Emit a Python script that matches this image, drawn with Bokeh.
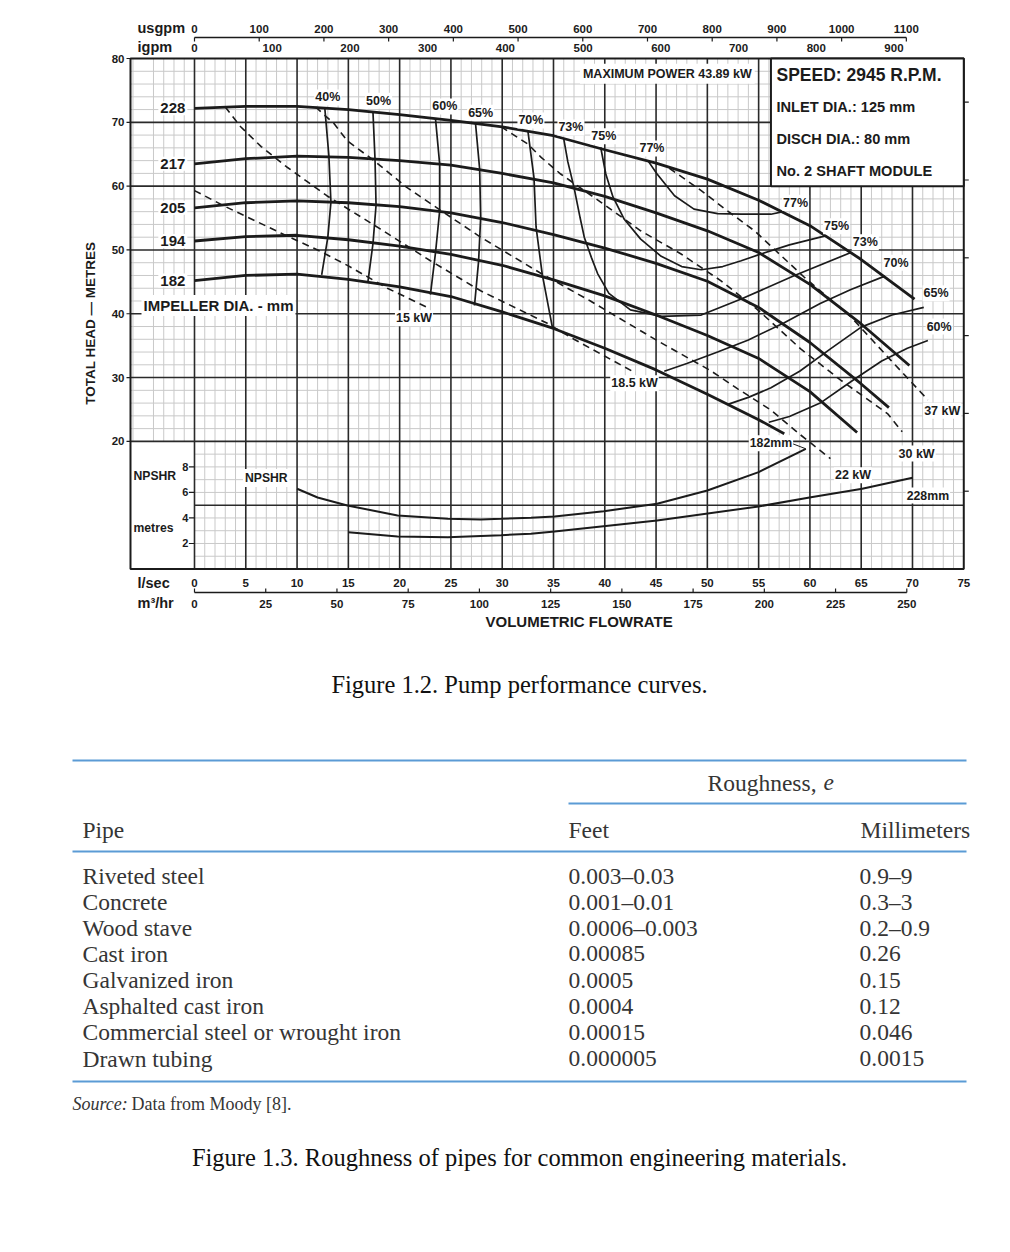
import math
from bokeh.plotting import figure
from bokeh.models import Range1d, ColumnDataSource
from bokeh.layouts import column
from bokeh.embed import file_html
from bokeh.resources import INLINE
from bokeh.core.properties import value

# ---------------- data: pump chart (flow in l/s, head in m) ----------------
q_228 = [0, 5, 10, 15, 20, 25, 30, 35, 40, 45, 50, 55, 60, 65, 70.2]
h_228 = [72.2, 72.5, 72.5, 72.0, 71.2, 70.3, 69.3, 67.9, 65.7, 63.6, 61.1, 57.8, 53.8, 48.5, 42.3]
q_217 = [0, 5, 10, 15, 20, 25, 30, 35, 40, 45, 50, 55, 60, 65, 69.7]
h_217 = [63.5, 64.3, 64.7, 64.5, 64.0, 63.3, 62.0, 60.5, 58.4, 55.8, 53.0, 49.6, 44.6, 38.4, 31.9]
q_205 = [0, 5, 10, 15, 20, 25, 30, 35, 40, 45, 50, 55, 60, 65, 67.7]
h_205 = [56.6, 57.4, 57.7, 57.4, 56.8, 55.8, 54.3, 52.4, 50.3, 47.9, 45.1, 41.0, 35.5, 29.0, 25.3]
q_194 = [0, 5, 10, 15, 20, 25, 30, 35, 40, 45, 50, 55, 60, 64.6]
h_194 = [51.4, 52.1, 52.3, 51.6, 50.6, 49.3, 47.6, 45.3, 42.8, 39.8, 36.6, 33.0, 27.8, 21.4]
q_182 = [0, 5, 10, 15, 20, 25, 30, 35, 40, 45, 50, 55, 57.5]
h_182 = [45.2, 46.0, 46.2, 45.4, 44.2, 42.7, 40.3, 37.7, 34.6, 31.2, 27.4, 23.4, 21.2]
impeller_labels = ["228", "217", "205", "194", "182"]

# efficiency contours
q_e40 = [12.7, 13.1, 13.3, 13.0, 12.4];  h_e40 = [72.3, 64.8, 57.5, 52.0, 46.1]
q_e50 = [17.4, 17.6, 17.7, 17.4, 16.9];  h_e50 = [71.6, 64.2, 57.0, 51.0, 44.9]
q_e60 = [23.5, 23.9, 23.9, 23.5, 23.0];  h_e60 = [70.5, 63.5, 56.1, 49.6, 43.0]
q_e65 = [27.4, 27.8, 27.9, 27.7, 27.3];  h_e65 = [69.8, 62.7, 55.1, 48.3, 41.3]
q_e70 = [32.5, 33.1, 33.3, 33.9, 34.9];  h_e70 = [68.7, 61.3, 53.6, 46.2, 37.8]
q_e73 = [36.0, 36.4, 37.0, 37.6, 38.0, 38.7, 39.3, 40.4, 42.5, 45.5, 49.4, 53.3, 58.5, 64.0]
h_e73 = [67.4, 63.8, 59.8, 55.0, 52.0, 48.8, 46.3, 43.2, 40.6, 39.6, 39.8, 42.3, 46.0, 49.6]
q_e75 = [39.6, 40.1, 40.8, 41.9, 43.5, 45.5, 47.5, 49.4, 51.5, 53.3, 55.1, 58.0, 61.5]
h_e75 = [66.1, 61.9, 58.3, 54.8, 51.7, 49.0, 47.4, 46.9, 47.4, 48.3, 49.3, 50.8, 52.2]
q_e77 = [44.2, 45.1, 46.8, 48.7, 51.0, 53.3, 56.2, 57.4]
h_e77 = [64.0, 61.9, 58.5, 56.4, 55.7, 55.6, 55.6, 56.0]
q_e70r = [45.8, 48.0, 51.0, 54.0, 57.5, 61.0, 64.0, 67.3]
h_e70r = [31.0, 32.2, 34.0, 35.9, 38.6, 41.6, 43.8, 45.9]
q_e65r = [52.0, 54.0, 56.2, 59.0, 62.0, 65.0, 68.0, 71.1]
h_e65r = [25.8, 26.9, 28.4, 31.0, 34.5, 37.9, 39.8, 41.0]
q_e60r = [56.0, 58.0, 61.0, 64.3, 67.0, 69.5, 71.5]
h_e60r = [23.0, 23.9, 26.0, 29.7, 32.6, 34.6, 35.8]
eff_text = ["40%", "50%", "60%", "65%", "70%", "73%", "75%", "77%", "77%", "75%", "73%", "70%", "65%", "60%"]
eff_text_q = [13.0, 17.95, 24.4, 27.9, 32.8, 36.7, 39.9, 44.6, 58.6, 62.6, 65.4, 68.4, 72.3, 72.6]
eff_text_h = [73.9, 73.4, 72.5, 71.5, 70.3, 69.2, 67.8, 65.9, 57.4, 53.7, 51.2, 48.0, 43.2, 38.0]

# power lines (dashed)
q_p15 = [0, 3, 6, 9, 12, 15, 18.8, 22.7]
h_p15 = [59.3, 56.8, 54.5, 52.2, 50.0, 47.5, 44.0, 41.0]
q_p185 = [3.0, 4.5, 6.5, 9.0, 12.9, 18.1, 23.0, 27.9, 34.4, 37.0, 42.9]
h_p185 = [72.4, 69.3, 66.2, 63.0, 58.5, 53.3, 48.3, 43.6, 38.5, 36.0, 30.8]
q_p22 = [11.8, 13.6, 14.9, 17.5, 20.7, 24.0, 27.9, 33.8, 38.6, 45.1, 50.3, 53.0, 56.2, 59.1, 62.0]
h_p22 = [72.4, 69.8, 67.1, 64.0, 59.8, 56.2, 52.0, 46.3, 42.0, 35.8, 31.1, 28.2, 24.9, 21.0, 17.3]
q_p30 = [29.9, 32.5, 33.8, 35.7, 39.6, 43.5, 47.4, 51.3, 55.0, 59.1, 63.0, 67.6, 69.0]
h_p30 = [69.3, 66.6, 64.5, 61.9, 57.5, 53.0, 49.4, 45.2, 40.5, 34.5, 29.6, 24.3, 21.5]
q_p37 = [46.3, 49.4, 51.9, 54.6, 59.4, 64.0, 67.9, 71.5]
h_p37 = [62.8, 59.3, 56.2, 53.0, 45.8, 39.5, 32.7, 26.5]
power_text = ["15 kW", "18.5 kW", "22 kW", "30 kW", "37 kW"]
power_text_q = [21.4, 42.9, 64.2, 70.4, 72.9]
power_text_h = [39.3, 29.1, 14.7, 18.1, 24.8]

# NPSHR curves (flow l/s, NPSHR m)
q_n182 = [10.0, 12.0, 14.9, 19.8, 24.7, 27.9, 29.9, 32.8, 35.1, 39.9, 45.1, 50.0, 55.0, 59.6]
n_n182 = [6.29, 5.6, 4.98, 4.19, 3.93, 3.88, 3.93, 4.01, 4.11, 4.53, 5.11, 6.15, 7.59, 9.42]
q_n228 = [15.0, 19.8, 24.7, 29.9, 32.8, 35.1, 45.1, 55.0, 60.1, 65.1, 70.0]
n_n228 = [2.88, 2.55, 2.49, 2.65, 2.76, 2.94, 3.80, 4.90, 5.63, 6.29, 7.15]
npshr_ticks = [2, 4, 6, 8]

# axis scales
lsec_ticks = list(range(0, 80, 5))
m3h_ticks = list(range(0, 275, 25))
usgpm_ticks = list(range(0, 1200, 100))
igpm_ticks = list(range(0, 1000, 100))
head_ticks = [20, 30, 40, 50, 60, 70, 80]
feet_ticks = [40, 80, 120, 160, 200, 240]

info_lines = ["SPEED: 2945 R.P.M.", "INLET DIA.: 125 mm", "DISCH DIA.: 80 mm", "No. 2 SHAFT MODULE"]

# ---------------- data: roughness table ----------------
pipes = ["Riveted steel", "Concrete", "Wood stave", "Cast iron", "Galvanized iron",
         "Asphalted cast iron", "Commercial steel or wrought iron", "Drawn tubing"]
rough_feet = ["0.003–0.03", "0.001–0.01", "0.0006–0.003", "0.00085", "0.0005",
              "0.0004", "0.00015", "0.000005"]
rough_mm = ["0.9–9", "0.3–3", "0.2–0.9", "0.26", "0.15", "0.12", "0.046", "0.0015"]

# ---------------- figure 1: pump chart ----------------
USG, IMP, M3H, FT = 15.850, 13.198, 3.6, 3.2808     # unit conversions from l/s and m
W1, H1 = 1000, 640
PX0, SX = 194.0, 10.257       # layout: pixel of 0 l/s, pixels per l/s
PY0, SY = 568.5, 6.381        # layout: pixel of chart zero, pixels per metre
X0, X1, Y0, Y1 = -6.24, 75.0, 0.0, 80.0              # chart frame in data units

def gx(px):   # layout helper: page pixel -> flow units
    return (px - PX0) / SX

def gy(py):   # layout helper: page pixel -> head units
    return (PY0 - py) / SY

FONT = "Liberation Sans"
INK = "#1b1b1b"

p = figure(width=W1, height=H1, x_range=Range1d(gx(0), gx(W1)), y_range=Range1d(gy(H1), gy(0)),
           output_backend="svg", toolbar_location=None, title=None,
           x_axis_type=None, y_axis_type=None, min_border=0)
p.outline_line_color = None
p.background_fill_color = "white"
p.border_fill_color = "white"
p.xgrid.grid_line_color = None
p.ygrid.grid_line_color = None

def txt(xs, ys, texts, size="12.5px", align="center", bg=False, style="bold", pad=1, angle=0.0,
        color=INK):
    src = ColumnDataSource(dict(x=list(xs), y=list(ys), t=list(texts)))
    kw = dict(x="x", y="y", text="t", source=src, text_font=value(FONT), text_font_size=size,
              text_font_style=style, text_align=align, text_baseline="middle", text_color=color,
              angle=angle)
    if bg:
        kw.update(background_fill_color="white", padding=pad)
    p.text(**kw)

# grid
BOX_X = 56.2
mx0, my0, mx1, my1 = [], [], [], []
for g in range(-6, 76):
    if g % 5 == 0:
        continue
    mx0.append(g); mx1.append(g)
    my0.append(20 if g < 0 else 0)
    my1.append(60 if g > BOX_X else 80)
for g in range(2, 80, 2):
    if g % 10 == 0:
        continue
    my0.append(g); my1.append(g)
    mx0.append(X0 if g > 20 else 0)
    mx1.append(BOX_X if g > 60 else X1)
p.segment(x0=mx0, y0=my0, x1=mx1, y1=my1, line_color="#c9c9c9", line_width=1)

Mx0, My0, Mx1, My1 = [], [], [], []
for g in range(0, 75, 5):
    Mx0.append(g); Mx1.append(g); My0.append(0); My1.append(60 if g > BOX_X else 80)
for g in [10, 20, 30, 40, 50, 60, 70]:
    My0.append(g); My1.append(g)
    Mx0.append(0 if g < 20 else X0)
    Mx1.append(BOX_X if g > 60 else X1)
p.segment(x0=Mx0, y0=My0, x1=Mx1, y1=My1, line_color="#2a2a2a", line_width=1.6)

# frame and info box
p.quad(left=X0, right=X1, bottom=Y0, top=Y1, fill_color=None, line_color=INK, line_width=2)
p.quad(left=BOX_X, right=X1, bottom=60, top=80, fill_color="white", line_color=INK, line_width=2)

# ---- axes (drawn through the data scales) ----
TICK_X = 4 / SX
TICK_Y = 4 / SY
# left: total head
p.segment(x0=[X0 - TICK_X] * len(head_ticks), x1=[X0] * len(head_ticks), y0=head_ticks, y1=head_ticks,
          line_color=INK, line_width=1.2)
txt([X0 - TICK_X - 2 / SX] * len(head_ticks), head_ticks, [str(v) for v in head_ticks], size="11.5px",
    align="right")
txt([gx(90)], [38.5], ["TOTAL HEAD — METRES"], size="13.5px", angle=math.pi / 2)
# right: unlabeled feet ticks
ft_y = [v / FT for v in feet_ticks]
p.segment(x0=[X1] * len(ft_y), x1=[X1 + 5 / SX] * len(ft_y), y0=ft_y, y1=ft_y, line_color=INK, line_width=1.2)
# top: usgpm (line + ticks) and igpm
y_usg_line = gy(37)
usg_x = [v / USG for v in usgpm_ticks]
p.segment(x0=[0], x1=[1100 / USG], y0=[y_usg_line], y1=[y_usg_line], line_color=INK, line_width=1.3)
p.segment(x0=usg_x, x1=usg_x, y0=[y_usg_line] * len(usg_x), y1=[y_usg_line - TICK_Y] * len(usg_x),
          line_color=INK, line_width=1.2)
txt(usg_x, [gy(28)] * len(usg_x), [str(v) for v in usgpm_ticks], size="11.5px")
txt([v / IMP for v in igpm_ticks], [gy(47.5)] * len(igpm_ticks), [str(v) for v in igpm_ticks], size="11.5px")
txt([gx(137)] * 2, [gy(27), gy(46)], ["usgpm", "igpm"], size="14.5px", align="left")
# bottom: l/sec and m3/hr
txt(lsec_ticks, [gy(582)] * len(lsec_ticks), [str(v) for v in lsec_ticks], size="11.5px")
y_m3_line = gy(592)
m3_x = [v / M3H for v in m3h_ticks]
p.segment(x0=[0], x1=[250 / M3H], y0=[y_m3_line], y1=[y_m3_line], line_color=INK, line_width=1.3)
p.segment(x0=m3_x, x1=m3_x, y0=[y_m3_line] * len(m3_x), y1=[y_m3_line + TICK_Y] * len(m3_x),
          line_color=INK, line_width=1.2)
txt(m3_x, [gy(603)] * len(m3_x), [str(v) for v in m3h_ticks], size="11.5px")
txt([gx(137)] * 2, [gy(582), gy(602)], ["l/sec", "m³/hr"], size="14.5px", align="left")
txt([37.5], [gy(621)], ["VOLUMETRIC FLOWRATE"], size="15px")

# ---- curves ----
for q, h in [(q_228, h_228), (q_217, h_217), (q_205, h_205), (q_194, h_194), (q_182, h_182)]:
    p.line(q, h, line_color=INK, line_width=2.8)

for q, h in [(q_e40, h_e40), (q_e50, h_e50), (q_e60, h_e60), (q_e65, h_e65), (q_e70, h_e70),
             (q_e73, h_e73), (q_e75, h_e75), (q_e77, h_e77), (q_e70r, h_e70r), (q_e65r, h_e65r),
             (q_e60r, h_e60r)]:
    p.line(q, h, line_color=INK, line_width=1.7)

for q, h in [(q_p15, h_p15), (q_p185, h_p185), (q_p22, h_p22), (q_p30, h_p30), (q_p37, h_p37)]:
    p.line(q, h, line_color=INK, line_width=1.6, line_dash="7 5")

# NPSHR band: 1 m NPSHR = 2 chart units
p.line(q_n182, [2 * v for v in n_n182], line_color=INK, line_width=2)
p.line(q_n228, [2 * v for v in n_n228], line_color=INK, line_width=2)
p.segment(x0=[58.2], y0=[19.7], x1=[q_n182[-1]], y1=[2 * n_n182[-1]], line_color=INK, line_width=1)
p.segment(x0=[-TICK_X * 1.4] * 4, x1=[0] * 4, y0=[2 * v for v in npshr_ticks], y1=[2 * v for v in npshr_ticks],
          line_color=INK, line_width=1.2)

# ---- labels ----
txt([-0.7] * 5, [h_228[0], h_217[0], h_205[0], h_194[0], h_182[0]], impeller_labels,
    size="15px", align="right", bg=True, pad=2)
txt([gx(141)], [41.3], ["IMPELLER DIA. - mm"], size="15px", align="left", bg=True, pad=2)
txt(eff_text_q, eff_text_h, eff_text, size="12.5px", bg=True, pad=1)
txt(power_text_q, power_text_h, power_text, size="12.5px", bg=True, pad=1)
txt([56.2, 71.5], [19.7, 11.5], ["182mm", "228mm"], size="12.3px", bg=True, pad=1)
txt([46.1], [77.6], ["MAXIMUM POWER 43.89 kW"], size="12.5px", bg=True, pad=3)
txt([-0.6] * 4, [2 * v for v in npshr_ticks], [str(v) for v in npshr_ticks], size="11px", align="right")
txt([gx(133)] * 2, [gy(475), gy(527)], ["NPSHR", "metres"], size="12.2px", align="left")
txt([7.0], [gy(477.5)], ["NPSHR"], size="12.2px", bg=True, pad=2)
txt([gx(776)], [gy(74)], [info_lines[0]], size="17.5px", align="left")
txt([gx(776)] * 3, [gy(106), gy(138), gy(170)], info_lines[1:], size="14.6px", align="left")

# ---------------- figure 2: captions and roughness table ----------------
W2, H2 = 1000, 610
t = figure(width=W2, height=H2, x_range=Range1d(0, W2), y_range=Range1d(H1 + H2, H1),
           output_backend="svg", toolbar_location=None, title=None, x_axis_type=None, y_axis_type=None,
           min_border=0)
t.outline_line_color = None
t.xgrid.grid_line_color = None
t.ygrid.grid_line_color = None
SERIF = "Liberation Serif"
GREY = "#353535"
BLUE = "#5b9bd5"

def ttext(xs, ys, texts, size="23.5px", align="left", style="normal", color=GREY):
    t.text(x=xs, y=ys, text=texts, text_font=value(SERIF), text_font_size=size, text_font_style=style,
           text_align=align, text_baseline="middle", text_color=color)

ttext([519], [684], ["Figure 1.2. Pump performance curves."], size="24.5px", align="center", color="#111111")
t.segment(x0=[72, 568, 72, 72], x1=[966, 966, 966, 966], y0=[760, 803, 851, 1081], y1=[760, 803, 851, 1081],
          line_color=BLUE, line_width=2)
ttext([707], [782], ["Roughness,"])
ttext([823], [782], ["e"], style="italic")
ttext([82, 568, 860], [829, 829, 829], ["Pipe", "Feet", "Millimeters"])
rows_y = [875 + 26.15 * i for i in range(len(pipes))]
ttext([82] * len(pipes), rows_y, pipes)
ttext([568] * len(pipes), rows_y, rough_feet)
ttext([859] * len(pipes), rows_y, rough_mm)
ttext([72], [1103], ["Source:"], size="18px", style="italic")
ttext([131], [1103], ["Data from Moody [8]."], size="18px")
ttext([519], [1157], ["Figure 1.3. Roughness of pipes for common engineering materials."], size="24.5px",
      align="center", color="#111111")

layout = column(p, t, spacing=0)
open("out.html", "w").write(file_html(layout, INLINE))
